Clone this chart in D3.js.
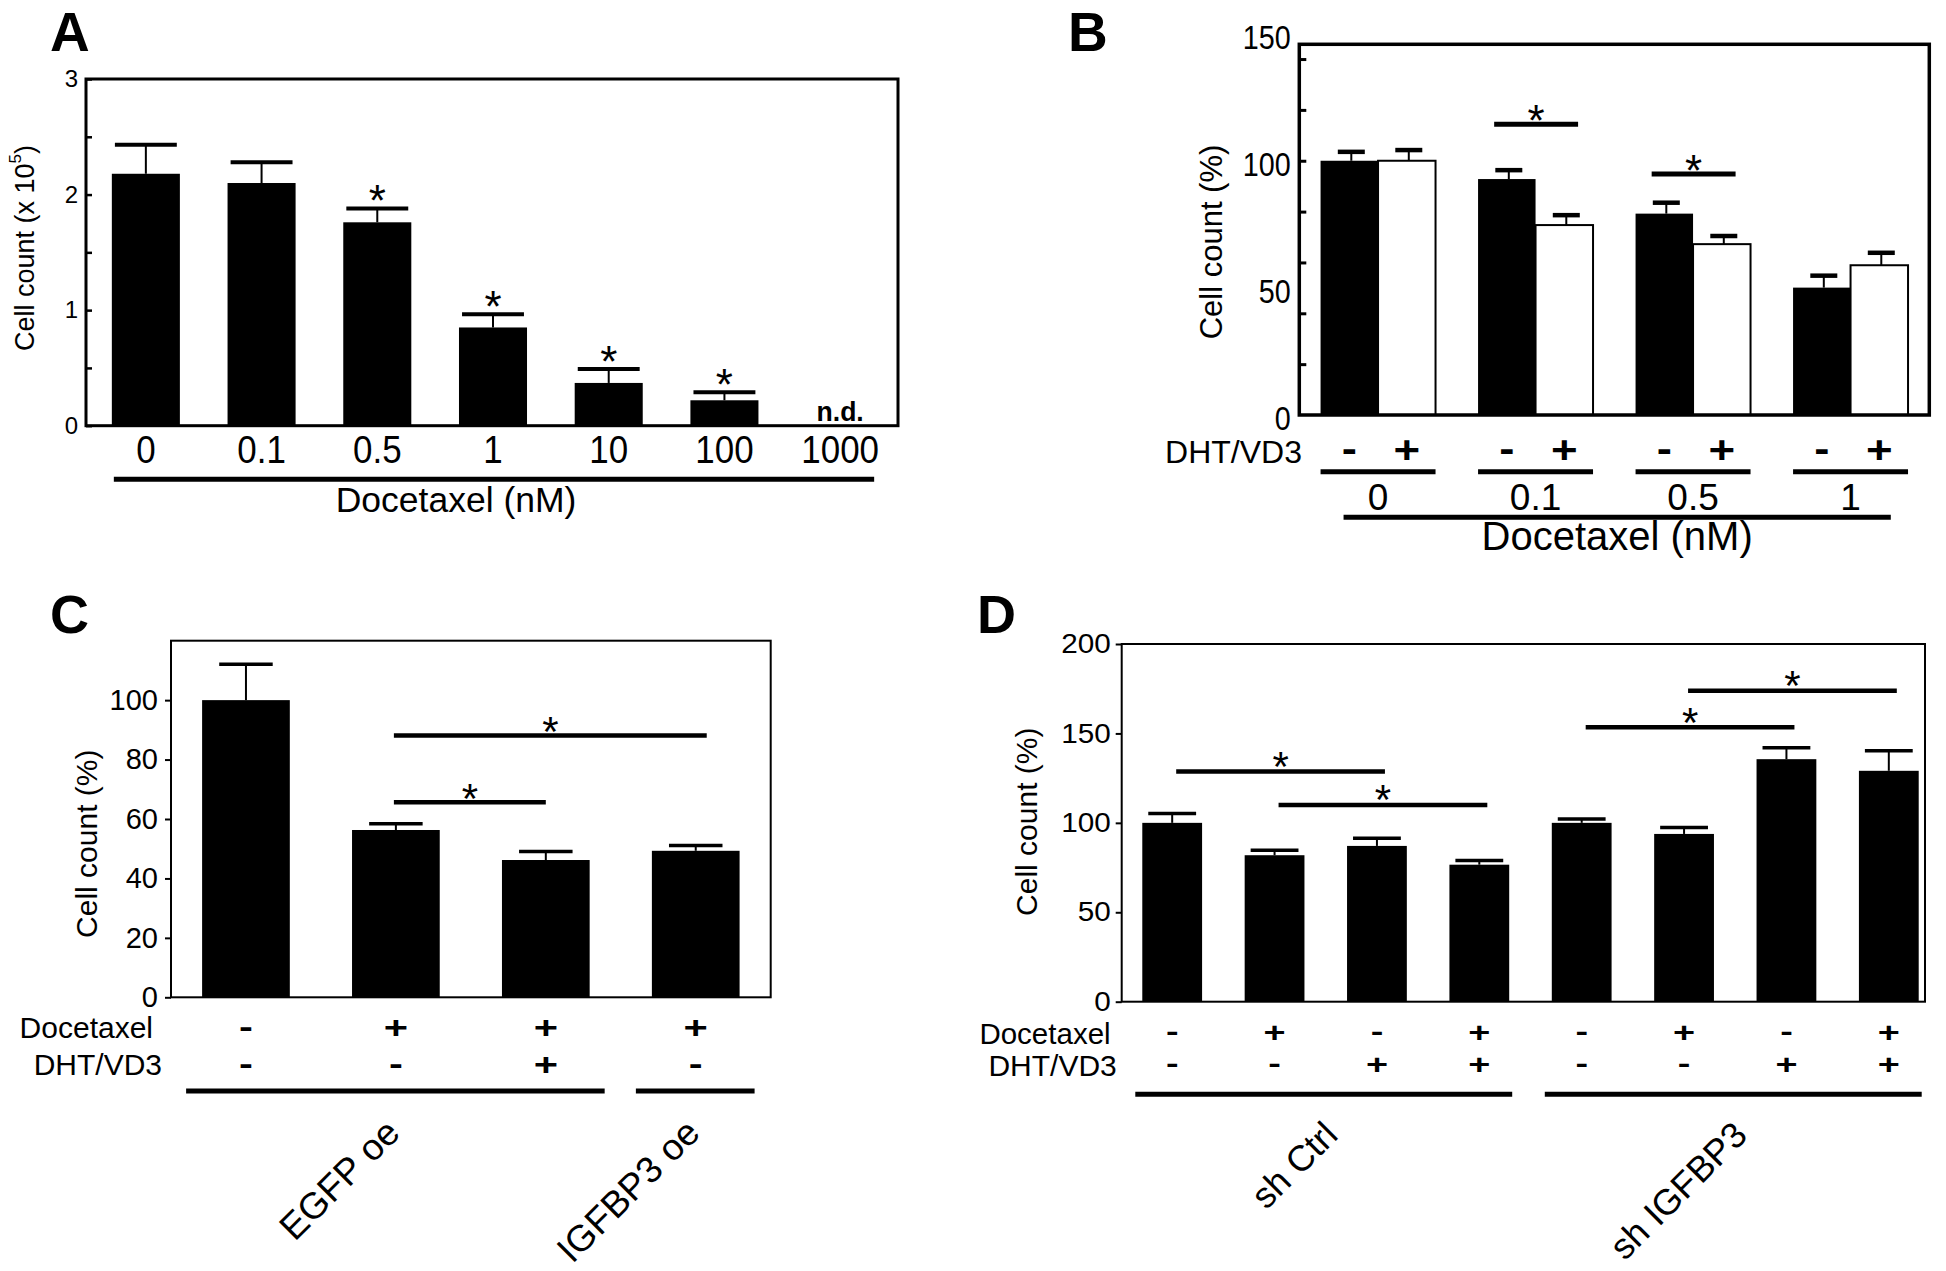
<!DOCTYPE html>
<html><head><meta charset="utf-8">
<script src="https://cdn.jsdelivr.net/npm/d3@7"></script>
<style>
body{margin:0;background:#fff}
svg{display:block}
text{font-family:"Liberation Sans",Arial,sans-serif;fill:#000}
</style>
</head><body>
<svg id="fig" width="1946" height="1271"></svg>
<script>
// ---------------- Panel A data ----------------
const concA = ["0","0.1","0.5","1","10","100","1000"];
const countA = [2.18, 2.10, 1.76, 0.85, 0.37, 0.22, null];
const errA = [0.25, 0.18, 0.12, 0.115, 0.12, 0.07, null];
const sigA = [false, false, true, true, true, true, false];
const yTicksA = [0, 0.5, 1, 1.5, 2, 2.5, 3];

// ---------------- Panel B data ----------------
const concB = ["0","0.1","0.5","1"];
const dhtB = ["-","+"];
const minusB = [100, 92.8, 79.2, 50.1];
const plusB = [100, 74.7, 67.2, 58.9];
const errMinusB = [3.5, 3.5, 4.3, 4.7];
const errPlusB = [4.2, 3.9, 3.2, 4.9];
const sigB = [{g:"0.1", y:114.4}, {g:"0.5", y:94.8}];
const yLabelsB = [0, 50, 100, 150];
const yMinorB = [20, 40, 60, 80, 100, 120, 140];

// ---------------- Panel C data ----------------
const docC = ["-","+","+","+"];
const dhtC = ["-","-","+","-"];
const countC = [100, 56.3, 46.2, 49.3];
const errC = [12.1, 2.1, 2.9, 1.8];
const groupsC = [{label:"EGFP oe", from:0, to:2}, {label:"IGFBP3 oe", from:3, to:3}];
const sigC = [{from:1, to:3, y:88.1}, {from:1, to:2, y:65.6}];
const yTicksC = [0, 20, 40, 60, 80, 100];

// ---------------- Panel D data ----------------
const docD = ["-","+","-","+","-","+","-","+"];
const dhtD = ["-","-","+","+","-","-","+","+"];
const countD = [100, 81.9, 87.1, 76.6, 100, 93.8, 135.6, 129.1];
const errD = [5.2, 2.8, 4.3, 2.4, 2.1, 3.6, 6.4, 11.2];
const groupsD = [{label:"sh Ctrl", from:0, to:3}, {label:"sh IGFBP3", from:4, to:7}];
const sigD = [{from:0, to:2, y:128.7}, {from:1, to:3, y:110.0}, {from:4, to:6, y:153.5}, {from:5, to:7, y:173.8}];
const yTicksD = [0, 50, 100, 150, 200];

// ---------------- helpers ----------------
const FONT = '"Liberation Sans", Arial, sans-serif';
const SYMFONT = '"DejaVu Sans", sans-serif';
const svg = d3.select("#fig");
svg.append("rect").attr("width",1946).attr("height",1271).attr("fill","#fff");

function txt(g, s, x, y, o = {}) {
  const t = g.append("text").attr("x", x).attr("y", y).text(s)
    .attr("font-size", o.size || 30)
    .attr("text-anchor", o.anchor || "middle")
    .attr("font-weight", o.weight || "normal")
    .attr("font-family", o.family || FONT);
  if (o.dy) t.attr("dy", o.dy);
  if (o.rotate != null) t.attr("transform", `rotate(${o.rotate},${x},${y})`);
  else if (o.sx) t.attr("transform", `translate(${x},${y}) scale(${o.sx},1) translate(${-x},${-y})`);
  return t;
}
function hline(g, x0, x1, y, w) {
  g.append("line").attr("x1", x0).attr("x2", x1).attr("y1", y).attr("y2", y)
    .attr("stroke", "#000").attr("stroke-width", w);
}
function frame(g, x0, y0, x1, y1, w) {
  g.append("rect").attr("x", x0).attr("y", y0).attr("width", x1 - x0).attr("height", y1 - y0)
    .attr("fill", "none").attr("stroke", "#000").attr("stroke-width", w);
}
function errBar(g, cx, y0, y1, capW, capT, lineW) {
  g.append("line").attr("x1", cx).attr("x2", cx).attr("y1", y0).attr("y2", y1)
    .attr("stroke", "#000").attr("stroke-width", lineW);
  hline(g, cx - capW / 2, cx + capW / 2, y1, capT);
}
function star(g, cx, cy, size) {
  txt(g, "*", cx, cy, {size: size || 44, family: SYMFONT, dy: "0.56em"});
}
function sym(g, s, cx, cy, size, sx) {
  txt(g, s, cx, cy, {size: size, family: SYMFONT, weight: "bold", sx: sx || 1.3,
    dy: s === "+" ? "0.32em" : "0.29em"});
}
function styleAxis(ax, size, sx) {
  ax.select(".domain").remove();
  ax.attr("font-family", FONT).attr("font-size", size);
  ax.selectAll("text").attr("fill", "#000");
  if (sx) ax.selectAll("text").attr("transform", `scale(${sx},1)`);
}

// ======================= PANEL A =======================
{
  const g = svg.append("g");
  const L = 86, R = 898, T = 79, B = 425.7;
  const x = d3.scaleBand().domain(concA).range([88, 898]).paddingInner(0.412).paddingOuter(0.206);
  const y = d3.scaleLinear().domain([0, 3]).range([B, T]);
  const bw = x.bandwidth();
  const data = concA.map((c, i) => ({c, v: countA[i], e: errA[i], s: sigA[i]}));

  data.filter(d => d.v != null).forEach(d => {
    g.append("rect").attr("x", x(d.c)).attr("y", y(d.v)).attr("width", bw).attr("height", B - y(d.v)).attr("fill", "#000");
    const cx = x(d.c) + bw / 2;
    errBar(g, cx, y(d.v), y(d.v + d.e), bw * 0.91, 4, 2);
    if (d.s) star(g, cx, y(d.v + d.e) - 17, 44);
  });
  data.filter(d => d.v == null).forEach(d => {
    txt(g, "n.d.", x(d.c) + bw / 2, 421.5, {size: 28, weight: "bold", sx: 0.95});
  });

  frame(g, L, T, R, B, 3);
  const ay = g.append("g").attr("transform", `translate(${L},0)`)
    .call(d3.axisLeft(y).tickValues(yTicksA).tickSizeInner(-6).tickSizeOuter(0).tickPadding(8)
      .tickFormat(d => Number.isInteger(d) ? d : ""));
  styleAxis(ay, 24);
  ay.selectAll("line").attr("stroke-width", 2.5);

  const ax = g.append("g").attr("transform", `translate(0,${B})`)
    .call(d3.axisBottom(x).tickSize(0).tickPadding(0));
  styleAxis(ax, 38, 0.92);
  ax.selectAll("text").attr("y", 37.3).attr("dy", null);

  hline(g, x(concA[0]) + 2, x(concA[concA.length - 1]) + bw, 479.3, 5);
  txt(g, "Docetaxel (nM)", 456, 512, {size: 35.5});

  const yt = txt(g, "", 34, 248, {size: 27, rotate: -90});
  yt.append("tspan").text("Cell count (x 10");
  yt.append("tspan").text("5").attr("font-size", 17).attr("dy", "-0.75em");
  yt.append("tspan").text(")").attr("dy", "0.48em");

  txt(g, "A", 50, 51, {size: 55, weight: "bold", anchor: "start"});
}

// ======================= PANEL B =======================
{
  const g = svg.append("g");
  const L = 1299.3, R = 1929.3, T = 44.3, B = 415;
  const x = d3.scaleBand().domain(concB).range([L, R]).paddingInner(0.27).paddingOuter(0.135);
  const bw = x.bandwidth();
  const s = d3.scaleBand().domain(dhtB).range([0, bw]);
  const y = d3.scaleLinear().domain([0, 145.8]).range([B, T]);

  concB.forEach((c, i) => {
    const vals = {"-": [minusB[i], errMinusB[i]], "+": [plusB[i], errPlusB[i]]};
    dhtB.forEach(d => {
      const [v, e] = vals[d];
      const bx = x(c) + s(d);
      g.append("rect").attr("x", bx).attr("y", y(v)).attr("width", s.bandwidth()).attr("height", B - y(v))
        .attr("fill", d === "-" ? "#000" : "#fff").attr("stroke", "#000").attr("stroke-width", d === "-" ? 0 : 2);
      errBar(g, bx + s.bandwidth() / 2 + 2, y(v), y(v + e), 27, 4.5, 2);
      sym(g, d, bx + s.bandwidth() / 2, 451, 38, 1.2);
    });
    hline(g, x(c), x(c) + bw, 471.7, 5);
    txt(g, c, x(c) + bw / 2, 510, {size: 37});
  });
  sigB.forEach(d => {
    const x0 = x(d.g) + 0.14 * bw, x1 = x(d.g) + 0.87 * bw;
    hline(g, x0, x1, y(d.y), 5);
    star(g, (x0 + x1) / 2, y(d.y) - 13, 44);
  });

  frame(g, L, T, R, B, 3.5);
  const am = g.append("g").attr("transform", `translate(${L},0)`)
    .call(d3.axisLeft(y).tickValues(yMinorB).tickSizeInner(-7).tickSizeOuter(0).tickFormat(""));
  styleAxis(am, 10);
  am.selectAll("line").attr("stroke-width", 3);
  const al = g.append("g").attr("transform", `translate(${L},4)`)
    .call(d3.axisLeft(y).tickValues(yLabelsB).tickSize(0).tickPadding(10));
  styleAxis(al, 33, 0.87);

  txt(g, "DHT/VD3", 1302, 462.7, {size: 32, anchor: "end"});
  const lx0 = x(concB[0]) + 0.2 * bw, lx1 = x(concB[concB.length - 1]) + 0.85 * bw;
  hline(g, lx0, lx1, 517.3, 5);
  txt(g, "Docetaxel (nM)", (lx0 + lx1) / 2, 550, {size: 40});
  txt(g, "Cell count (%)", 1222, 242, {size: 31, rotate: -90});
  txt(g, "B", 1068, 51, {size: 55, weight: "bold", anchor: "start"});
}

// ======================= PANEL C =======================
{
  const g = svg.append("g");
  const L = 171, R = 770.7, T = 640.7, B = 997.3;
  const idx = d3.range(countC.length);
  const x = d3.scaleBand().domain(idx).range([L, R]).paddingInner(0.415).paddingOuter(0.2075);
  const bw = x.bandwidth();
  const y = d3.scaleLinear().domain([0, 120]).range([B, T]);
  const cx = i => x(i) + bw / 2;

  idx.forEach(i => {
    g.append("rect").attr("x", x(i)).attr("y", y(countC[i])).attr("width", bw).attr("height", B - y(countC[i])).attr("fill", "#000");
    errBar(g, cx(i), y(countC[i]), y(countC[i] + errC[i]), bw * 0.61, 3.5, 2);
    sym(g, docC[i], cx(i), 1027.4, 32, 1.3);
    sym(g, dhtC[i], cx(i), 1064.6, 32, 1.3);
  });
  sigC.forEach(d => {
    const x0 = cx(d.from) - 2, x1 = cx(d.to) + (d.to - d.from > 1 ? 11 : 0);
    hline(g, x0, x1, y(d.y), 4.5);
    star(g, (x0 + x1) / 2, y(d.y) - 13, 42);
  });
  frame(g, L, T, R, B, 2);
  const ay = g.append("g").attr("transform", `translate(${L},0)`)
    .call(d3.axisLeft(y).tickValues(yTicksC).tickSizeInner(6).tickSizeOuter(0).tickPadding(7));
  styleAxis(ay, 29);
  ay.selectAll("line").attr("stroke-width", 2);

  txt(g, "Docetaxel", 153, 1038, {size: 30, anchor: "end"});
  txt(g, "DHT/VD3", 162, 1075.3, {size: 30, anchor: "end"});
  groupsC.forEach(gr => {
    const x0 = x(gr.from) - 16, x1 = x(gr.to) + bw + 15;
    hline(g, x0, x1, 1091, 5);
    const gc = (x(gr.from) + x(gr.to) + bw) / 2;
    txt(g, gr.label, gc + 6, 1135, {size: 37, anchor: "end", rotate: -45});
  });
  txt(g, "Cell count (%)", 97, 843.7, {size: 30, rotate: -90});
  txt(g, "C", 50, 633, {size: 54, weight: "bold", anchor: "start"});
}

// ======================= PANEL D =======================
{
  const g = svg.append("g");
  const L = 1121.7, R = 1925, T = 644, B = 1001.7;
  const idx = d3.range(countD.length);
  const x = d3.scaleBand().domain(idx).range([1121, 1940]).paddingInner(0.416).paddingOuter(0.208);
  const bw = x.bandwidth();
  const y = d3.scaleLinear().domain([0, 200]).range([B, T]);
  const cx = i => x(i) + bw / 2;

  idx.forEach(i => {
    g.append("rect").attr("x", x(i)).attr("y", y(countD[i])).attr("width", bw).attr("height", B - y(countD[i])).attr("fill", "#000");
    errBar(g, cx(i), y(countD[i]), y(countD[i] + errD[i]), bw * 0.8, 3.5, 2);
    sym(g, docD[i], cx(i), 1033.2, 28, 1.35);
    sym(g, dhtD[i], cx(i), 1065.2, 28, 1.35);
  });
  sigD.forEach(d => {
    const x0 = cx(d.from) + 4, x1 = cx(d.to) + 8;
    hline(g, x0, x1, y(d.y), 4.5);
    star(g, (x0 + x1) / 2, y(d.y) - 14, 42);
  });
  frame(g, L, T, R, B, 2);
  const ay = g.append("g").attr("transform", `translate(${L},0)`)
    .call(d3.axisLeft(y).tickValues(yTicksD).tickSizeInner(6).tickSizeOuter(0).tickPadding(4));
  styleAxis(ay, 27, 1.1);
  ay.selectAll("line").attr("stroke-width", 2);

  txt(g, "Docetaxel", 1110.6, 1043.7, {size: 29.5, anchor: "end"});
  txt(g, "DHT/VD3", 1116.8, 1075.8, {size: 30, anchor: "end"});
  groupsD.forEach(gr => {
    const x0 = x(gr.from) - 7, x1 = x(gr.to) + bw + 3;
    hline(g, x0, x1, 1094.2, 5);
    const gc = (x0 + x1) / 2;
    txt(g, gr.label, gc + 16, 1137, {size: 36, anchor: "end", rotate: -45});
  });
  txt(g, "Cell count (%)", 1036.7, 821.7, {size: 30, rotate: -90});
  txt(g, "D", 977, 633, {size: 54, weight: "bold", anchor: "start"});
}
</script>
</body></html>
